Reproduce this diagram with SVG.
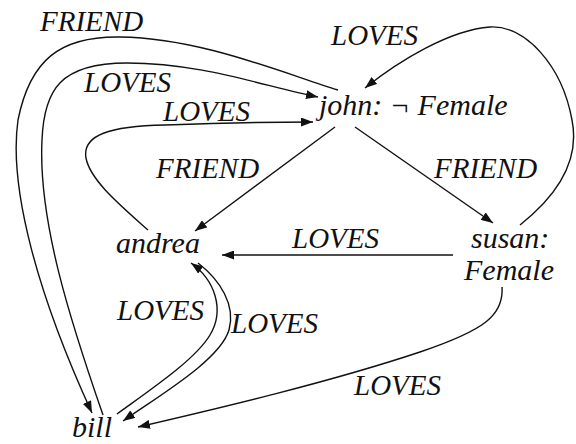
<svg xmlns="http://www.w3.org/2000/svg" width="576" height="444" viewBox="0 0 576 444">
<defs>
<style>
text{font-style:italic;font-size:29px;fill:#111}
.n{font-size:30px}
.e{fill:none;stroke:#111;stroke-width:1.4}
</style>
<marker id="ah" markerUnits="userSpaceOnUse" markerWidth="13" markerHeight="9" refX="12" refY="4.5" orient="auto">
<path d="M0,0 L12,4.5 L0,9 z" fill="#111"/>
</marker>
</defs>
<rect width="576" height="444" fill="#fff"/>
<g font-family="Liberation Serif, Times New Roman, DejaVu Serif, serif">
<g id="connectors">
<path class="e" marker-end="url(#ah)" d="M338,90 C280,72 200,38 120,37 C60,36 30,60 18,120 C8,190 40,300 92,413"/>
<text x="40" y="31">FRIEND</text>
<path class="e" marker-end="url(#ah)" d="M103,415 C70,320 38,220 42,140 C44,90 60,63 127,63 C200,63 260,85 318,97"/>
<text x="84" y="92">LOVES</text>
<path class="e" marker-end="url(#ah)" d="M148,230 C120,205 90,180 86,158 C82,135 110,126 165,125 C220,123 270,122 313,122"/>
<text x="163" y="121">LOVES</text>
<path class="e" marker-end="url(#ah)" d="M335,127 L195,231"/>
<text x="156" y="178">FRIEND</text>
<path class="e" marker-end="url(#ah)" d="M355,127 L493,223"/>
<text x="434" y="178">FRIEND</text>
<path class="e" marker-end="url(#ah)" d="M453,255 L222,255"/>
<text x="292" y="248">LOVES</text>
<path class="e" marker-end="url(#ah)" d="M520,225 C558,195 580,160 572,120 C562,65 525,25 490,27 C450,30 400,60 365,88"/>
<text x="331" y="45">LOVES</text>
<path class="e" marker-end="url(#ah)" d="M117,414 C150,390 195,360 210,335 C225,310 215,280 191,263"/>
<text x="117" y="320">LOVES</text>
<path class="e" marker-end="url(#ah)" d="M198,263 C220,280 236,305 229,330 C220,360 160,395 123,421"/>
<text x="231" y="333">LOVES</text>
<path class="e" marker-end="url(#ah)" d="M502,287 C504,315 485,330 420,352 C330,382 220,408 138,427"/>
<text x="354" y="395">LOVES</text>
</g>
<g id="john"><text class="n" x="319" y="115">john: ¬ Female</text></g>
<g id="andrea"><text class="n" x="116" y="253">andrea</text></g>
<g id="susan"><text class="n" x="471" y="248">susan:</text><text class="n" x="464" y="280">Female</text></g>
<g id="bill"><text class="n" x="72" y="437">bill</text></g>
</g>
</svg>
